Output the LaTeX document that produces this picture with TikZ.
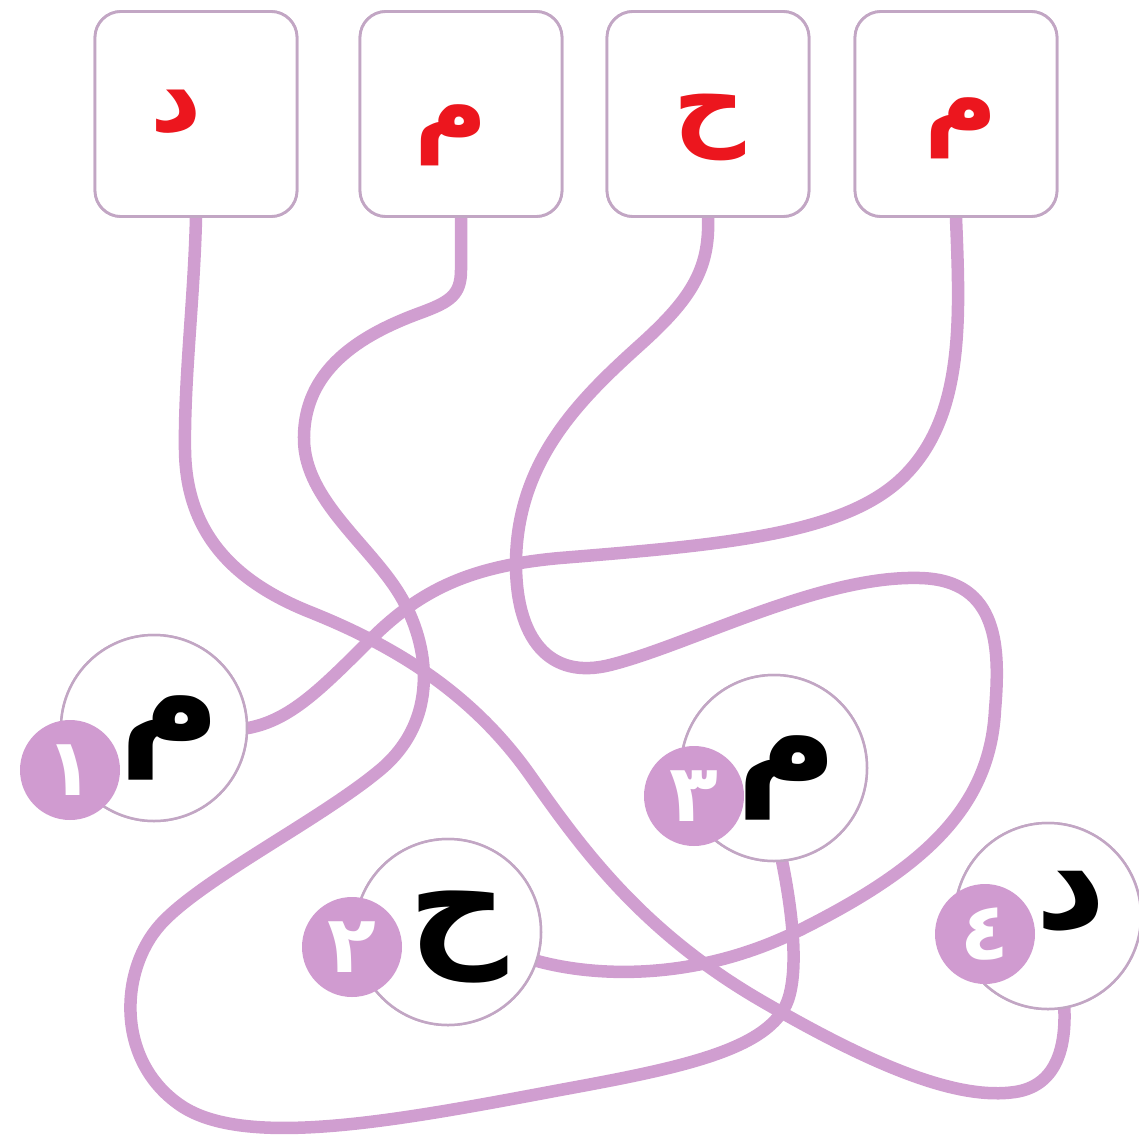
\documentclass[tikz,border=0pt]{standalone}
\usepackage{fontspec}
\newfontfamily\arabicfont[Script=Arabic]{DejaVu Sans}
\TeXXeTstate=1
\definecolor{wirec}{RGB}{208,158,208}
\definecolor{edgec}{RGB}{194,166,196}
\definecolor{redl}{RGB}{236,22,30}
\definecolor{badgec}{RGB}{208,155,208}
\begin{document}
\begin{tikzpicture}[x=1pt,y=-1pt,
  card/.style={draw=edgec, line width=2.8pt, rounded corners=26pt, fill=white, minimum width=202pt, minimum height=205pt, inner sep=0},
  ring/.style={circle, draw=edgec, line width=2.5pt, fill=white, minimum size=186pt, inner sep=0},
  tag/.style={circle, fill=badgec, minimum size=100pt, inner sep=0, text=white, font=\arabicfont\bfseries\fontsize{80}{90}\selectfont},
  wireline/.style={draw=wirec, line width=12.5pt, line cap=round, line join=round},
  redletter/.style={inner sep=0, text=redl, font=\arabicfont\bfseries\fontsize{100}{120}\selectfont},
  blackletter/.style={inner sep=0, text=black, font=\arabicfont\bfseries\fontsize{138}{160}\selectfont}]
\useasboundingbox (0,0) rectangle (1139,1141);
% boxes
\node[card] (b1) at (196,114) {};
\node[card] (b2) at (461,114) {};
\node[card] (b3) at (708,114) {};
\node[card] (b4) at (956,114) {};
% circles
\node[ring] (c1) at (154,728) {};
\node[ring] (c2) at (448,932) {};
\node[ring] (c3) at (774,768) {};
\node[ring] (c4) at (1048,916) {};
% wire: box 1 to circle 4
\draw[wireline] (b1.south)
  .. controls (194,300) and (184,380) .. (185,450)
  .. controls (186,530) and (230,580) .. (310,612)
  .. controls (390,644) and (470,690) .. (530,775)
  .. controls (580,846) and (640,930) .. (760,1000)
  .. controls (880,1070) and (960,1100) .. (1015,1092)
  .. controls (1055,1086) and (1066,1050) .. (c4.-80);
% wire: box 2 to circle 3
\draw[wireline] (b2.south) -- (461,270)
  .. controls (461,295) and (450,302) .. (420,313)
  .. controls (360,335) and (303,370) .. (304,440)
  .. controls (305,500) and (370,545) .. (400,595)
  .. controls (430,645) and (440,720) .. (380,770)
  .. controls (320,820) and (200,880) .. (160,925)
  .. controls (120,970) and (115,1060) .. (180,1105)
  .. controls (245,1150) and (400,1120) .. (560,1090)
  .. controls (680,1068) and (770,1050) .. (788,1000)
  .. controls (800,965) and (790,900) .. (c3.-85);
% wire: box 3 to circle 2
\draw[wireline] (b3.south)
  .. controls (710,270) and (690,300) .. (640,345)
  .. controls (580,399) and (518,460) .. (516,560)
  .. controls (515,640) and (550,680) .. (610,665)
  .. controls (690,645) and (820,575) .. (920,578)
  .. controls (1000,580) and (1000,650) .. (995,710)
  .. controls (990,810) and (920,870) .. (800,930)
  .. controls (700,980) and (600,978) .. (c2.-18);
% wire: box 4 to circle 1
\draw[wireline] (b4.south)
  .. controls (960,320) and (965,420) .. (900,480)
  .. controls (840,535) and (720,545) .. (560,558)
  .. controls (470,566) and (420,590) .. (370,640)
  .. controls (320,690) and (290,720) .. (c1.east);
% boxes and circles again, on top of the wire ends
\node[card] (b1t) at (b1) {};
\node[card] (b2t) at (b2) {};
\node[card] (b3t) at (b3) {};
\node[card] (b4t) at (b4) {};
\node[ring] (c1t) at (c1) {};
\node[ring] (c2t) at (c2) {};
\node[ring] (c3t) at (c3) {};
\node[ring] (c4t) at (c4) {};
% badges
\node[tag] (n1) at (70,770) {\beginR ١\endR};
\node[tag] (n2) at (352,947) {\beginR ٢\endR};
\node[tag] (n3) at (694,796) {\beginR ٣\endR};
\node[tag] (n4) at (985,934) {\beginR ٤\endR};
% letters in boxes
\node[redletter] (r1) at (176,112) {\beginR د\endR};
\node[redletter] (r2) at (451,135) {\beginR م\endR};
\node[redletter] (r3) at (710,127) {\beginR ح\endR};
\node[redletter] (r4) at (961,128) {\beginR م\endR};
% letters in circles
\node[blackletter] (k1) at (170,738) {\beginR م\endR};
\node[blackletter] (k2) at (458,937) {\beginR ح\endR};
\node[blackletter] (k3) at (787,778) {\beginR م\endR};
\node[blackletter] (k4) at (1071,902) {\beginR د\endR};
\end{tikzpicture}
\end{document}
